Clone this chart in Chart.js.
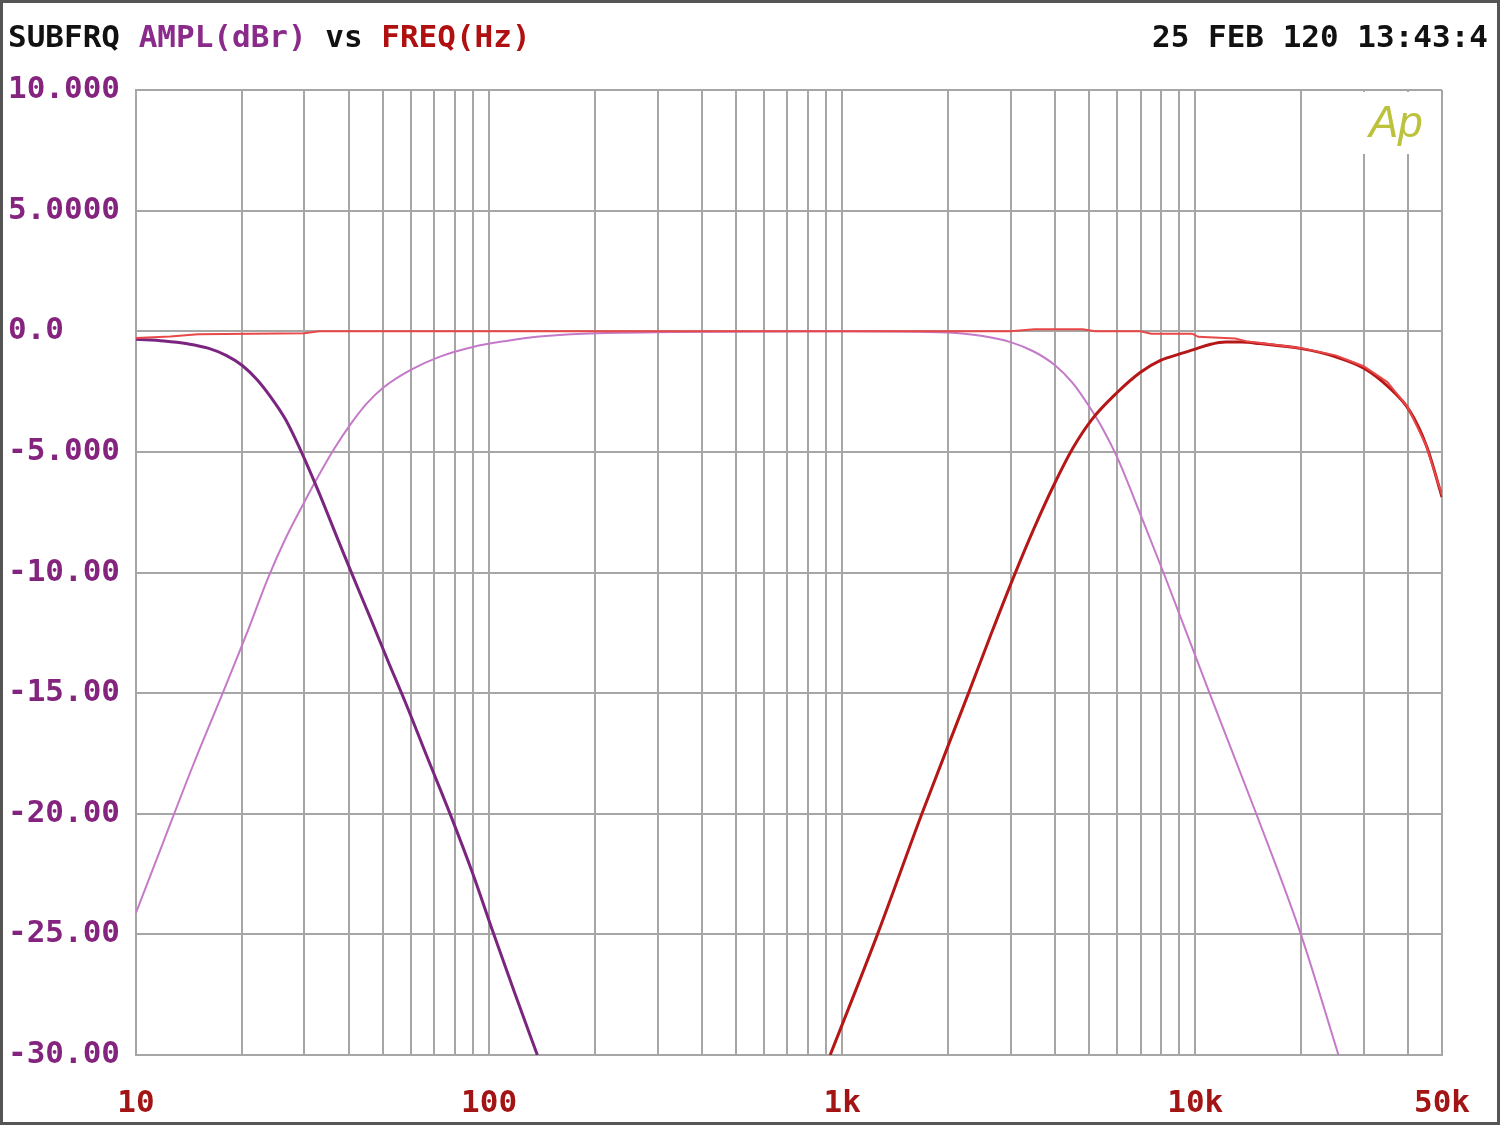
<!DOCTYPE html>
<html>
<head>
<meta charset="utf-8">
<script src="https://cdn.jsdelivr.net/npm/chart.js@4.4.1/dist/chart.umd.min.js"></script>
<style>
  html, body { margin: 0; padding: 0; background: #fff; }
  #wrap { width: 1500px; height: 1125px; }
</style>
</head>
<body>
<div id="wrap"><canvas id="apChart" width="1500" height="1125"></canvas></div>
<script>
// ---- chart data ----
const xGridFreqs = [10, 20, 30, 40, 50, 60, 70, 80, 90,
    100, 200, 300, 400, 500, 600, 700, 800, 900,
    1000, 2000, 3000, 4000, 5000, 6000, 7000, 8000, 9000,
    10000, 20000, 30000, 40000, 50000];
const xLabelFreqs = [10, 100, 1000, 10000, 50000];
const xLabelTexts = ['10', '100', '1k', '10k', '50k'];
const yTickValues = [10, 5, 0, -5, -10, -15, -20, -25, -30];
const yTickLabels = ['10.000', '5.0000', '0.0', '-5.000', '-10.00', '-15.00', '-20.00', '-25.00', '-30.00'];

// subwoofer low-pass (dark purple)
const subFreq = [10, 12, 14, 16, 18, 20, 22, 24, 26.5, 29.4, 33, 37, 41, 46, 52, 58, 67, 78, 90, 102, 118, 137];
const subDb   = [-0.33, -0.4, -0.52, -0.7, -1.0, -1.42, -2.0, -2.7, -3.65, -5.0, -6.7, -8.5, -10.1, -11.85, -13.75, -15.4, -17.7, -20.1, -22.5, -24.8, -27.4, -30];

// mid band-pass (light purple)
const midFreq = [10, 12, 14.5, 17.6, 20.5, 23.7, 26.5, 29.8, 33, 36.5, 40.4, 45, 50, 60, 72.6, 90, 112, 139, 185, 330, 1000,
    2000, 2500, 3000, 3500, 4000, 4500, 5000, 5500, 6000, 7000, 8130, 10980, 14890, 19920, 25450];
const midDb   = [-24.1, -21.1, -18.0, -15.0, -12.6, -10.2, -8.6, -7.15, -5.95, -4.85, -3.88, -3.0, -2.35, -1.6, -1.05, -0.65, -0.4, -0.22, -0.1, -0.03, 0,
    -0.05, -0.2, -0.45, -0.85, -1.4, -2.15, -3.1, -4.1, -5.2, -7.6, -10, -15, -20, -25, -30];

// tweeter high-pass (dark red)
const twFreq = [925, 1259, 1682, 2280, 2650, 3057, 3500, 4000, 4500, 5100, 6000, 7000, 8000, 9000, 10100, 11000, 12200, 13500, 15200, 20000, 25000, 30200, 35200, 40500, 45300, 50000];
const twDb   = [-30, -25, -20, -15, -12.5, -10.2, -8.15, -6.3, -4.85, -3.65, -2.55, -1.7, -1.2, -0.95, -0.72, -0.55, -0.45, -0.45, -0.51, -0.72, -1.06, -1.55, -2.3, -3.3, -4.8, -6.87];

// summed response (thin red)
const sumFreq = [10, 12.5, 15, 30, 33, 3000, 3500, 4800, 5200, 7000, 7500, 9800, 10200, 13000, 14000, 15200, 20000, 25000, 30000, 35000, 40000, 45000, 50000];
const sumDb   = [-0.28, -0.22, -0.12, -0.08, 0, 0, 0.08, 0.08, 0, 0, -0.1, -0.1, -0.23, -0.3, -0.42, -0.48, -0.7, -1.0, -1.45, -2.1, -3.15, -4.7, -6.8];

const FONT = '"DejaVu Sans Mono", monospace';
const GRID = '#a6a6a6';

function toPoints(freqs, dbs) {
    return freqs.map((f, i) => ({ x: f, y: dbs[i] }));
}

const apDecor = {
    id: 'apDecor',
    beforeDraw(chart) {
        const ctx = chart.ctx;
        ctx.save();
        ctx.fillStyle = '#ffffff';
        ctx.fillRect(0, 0, chart.width, chart.height);
        ctx.restore();
    },
    beforeDatasetsDraw(chart) {
        // the "Ap" badge sits in a blank patch cut out of the grid
        const ctx = chart.ctx;
        ctx.save();
        ctx.fillStyle = '#ffffff';
        ctx.fillRect(1350, 92, 86, 62);
        ctx.fillStyle = '#bcc23c';
        ctx.font = 'italic 44px "Liberation Sans", sans-serif';
        ctx.textAlign = 'left';
        ctx.textBaseline = 'alphabetic';
        ctx.fillText('Ap', 1369, 137);
        ctx.restore();
    },
    afterDraw(chart) {
        const ctx = chart.ctx;
        ctx.save();
        ctx.font = 'bold 31px ' + FONT;
        ctx.textBaseline = 'middle';
        const parts = [
            ['SUBFRQ ', '#111111'],
            ['AMPL(dBr) ', '#8a2a8a'],
            ['vs ', '#111111'],
            ['FREQ(Hz)', '#b01010']
        ];
        let x = 8;
        parts.forEach(([txt, col]) => {
            ctx.fillStyle = col;
            ctx.fillText(txt, x, 39);
            x += ctx.measureText(txt).width;
        });
        ctx.fillStyle = '#111111';
        ctx.textAlign = 'right';
        ctx.fillText('25 FEB 120 13:43:4', 1488, 39);

        ctx.strokeStyle = '#555555';
        ctx.lineWidth = 3;
        ctx.strokeRect(1.5, 1.5, chart.width - 3, chart.height - 3);
        ctx.restore();
    }
};

new Chart(document.getElementById('apChart'), {
    type: 'line',
    data: {
        datasets: [
            {
                label: 'Sum',
                data: toPoints(sumFreq, sumDb),
                borderColor: '#e84848',
                borderWidth: 2,
                tension: 0,
                order: 1
            },
            {
                label: 'Tweeter',
                data: toPoints(twFreq, twDb),
                borderColor: '#b51717',
                borderWidth: 3,
                cubicInterpolationMode: 'monotone',
                order: 2
            },
            {
                label: 'Sub',
                data: toPoints(subFreq, subDb),
                borderColor: '#7a2680',
                borderWidth: 3,
                cubicInterpolationMode: 'monotone',
                order: 3
            },
            {
                label: 'Mid',
                data: toPoints(midFreq, midDb),
                borderColor: '#c47ac8',
                borderWidth: 2,
                cubicInterpolationMode: 'monotone',
                order: 4
            }
        ]
    },
    options: {
        responsive: false,
        animation: false,
        devicePixelRatio: 1,
        elements: { point: { radius: 0 } },
        layout: { padding: { left: 8, right: 58, top: 90, bottom: 0 } },
        plugins: {
            legend: { display: false },
            tooltip: { enabled: false }
        },
        scales: {
            x: {
                type: 'logarithmic',
                min: 10,
                max: 50000,
                afterBuildTicks(scale) {
                    scale.ticks = xGridFreqs.map((v) => ({ value: v }));
                },
                afterFit(scale) {
                    scale.height = 70;
                },
                grid: { color: GRID, lineWidth: 2, drawTicks: false },
                border: { color: GRID, width: 2 },
                ticks: {
                    autoSkip: false,
                    maxRotation: 0,
                    padding: 30,
                    color: '#a31515',
                    font: { family: FONT, size: 31, weight: 'bold' },
                    callback(value) {
                        const idx = xLabelFreqs.indexOf(value);
                        return idx >= 0 ? xLabelTexts[idx] : '';
                    }
                }
            },
            y: {
                min: -30,
                max: 10,
                afterBuildTicks(scale) {
                    scale.ticks = yTickValues.map((v) => ({ value: v }));
                },
                afterFit(scale) {
                    scale.width = 128;
                },
                grid: { color: GRID, lineWidth: 2, drawTicks: false },
                border: { color: GRID, width: 2 },
                ticks: {
                    crossAlign: 'far',
                    padding: 0,
                    color: '#84247f',
                    font: { family: FONT, size: 31, weight: 'bold' },
                    callback(value) {
                        const idx = yTickValues.indexOf(value);
                        return idx >= 0 ? yTickLabels[idx] : '';
                    }
                }
            }
        }
    },
    plugins: [apDecor]
});
</script>
</body>
</html>
